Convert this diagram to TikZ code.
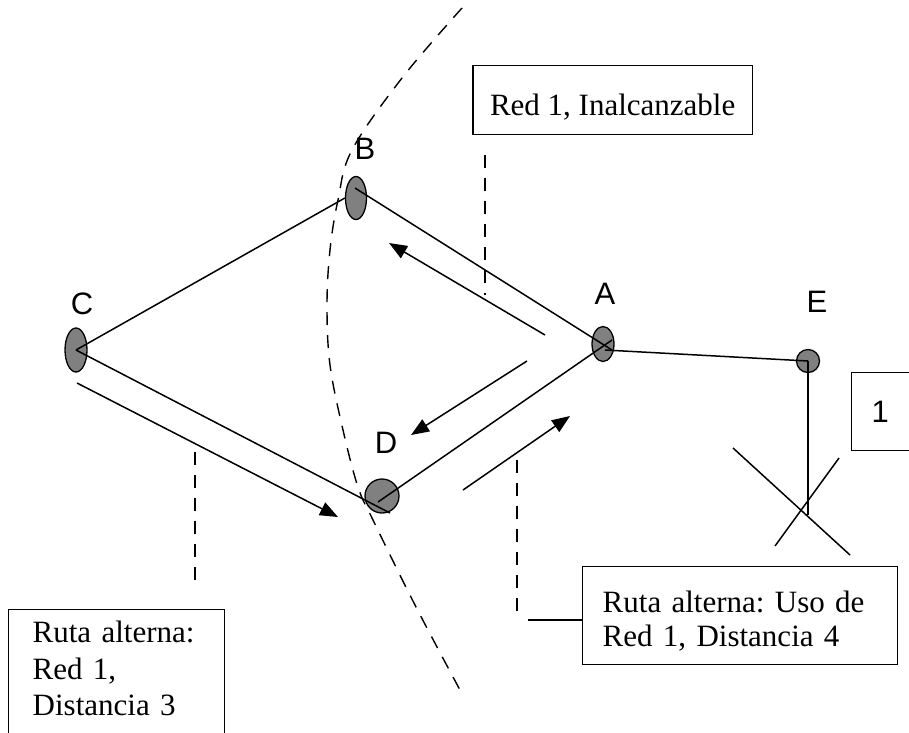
\documentclass[tikz,border=0pt]{standalone}
\usepackage{fontspec}
\setmainfont{Liberation Serif}
\newfontfamily\arialf{Liberation Sans}
\usetikzlibrary{shapes.geometric,arrows.meta,calc}
\definecolor{nodegray}{HTML}{808080}
\frenchspacing
\begin{document}
\begin{tikzpicture}[x=1pt,y=-1pt,
  link/.style={line width=1.5pt},
  dsh/.style={line width=1.4pt, dash pattern=on 13pt off 10pt},
  arr/.style={line width=1.5pt,-{Triangle[length=18pt,width=14pt]}},
  nd/.style={draw,line width=1.3pt,fill=nodegray,inner sep=0pt},
  lbl/.style={font=\arialf\fontsize{31}{36}\selectfont, inner sep=0pt},
  box/.style={draw,line width=1.4pt, inner ysep=0pt, align=left}]
\useasboundingbox (0,0) rectangle (909,732);
% dashed arc
\draw[dsh] plot[smooth, tension=0.6] coordinates {(462,8) (402,78) (352,150) (338,200) (330,250) (327,305) (330,365) (343,430) (358,487) (373,520) (415,605) (460,690)};
% nodes
\node[nd, ellipse, minimum width=21pt, minimum height=43pt] (B) at (356,198) {};
\node[nd, ellipse, minimum width=22pt, minimum height=44pt] (C) at (76,350) {};
\node[nd, circle, minimum size=34pt] (D) at (382,496) {};
\node[nd, ellipse, minimum width=22pt, minimum height=35pt] (A) at (603,344) {};
\node[nd, circle, minimum size=23pt] (E) at (808,361) {};
% labels
\node[lbl] (lB) at (365,149) {B};
\node[lbl] (lC) at (82,304) {C};
\node[lbl] (lD) at (386,443) {D};
\node[lbl] (lA) at (605,294) {A};
\node[lbl] (lE) at (817,302) {E};
% links
\draw[link] (C.center) -- (B.west);
\draw[link] ($(B.center)+(-1,-10)$) -- ($(A.center)+(9,6)$);
\draw[link] (C.center) -- ($(D.center)+(8,17)$);
\draw[link] ($(D.center)+(-4,6)$) -- ($(A.center)+(9,-4)$);
\draw[link] ($(A.center)+(2,6)$) -- (E.center);
\coordinate (Ebot) at (808,515);
\draw[link] (E.center) -- (Ebot);
% cross
\coordinate (x1a) at (733,448);
\coordinate (x1b) at (850,555);
\coordinate (x2a) at (839,458);
\coordinate (x2b) at (775,546);
\draw[link] (x1a) -- (x1b);
\draw[link] (x2a) -- (x2b);
% arrows
\coordinate (a1s) at (545,335); \coordinate (a1e) at (389,243);
\coordinate (a2s) at (527,361); \coordinate (a2e) at (411,435);
\coordinate (a3s) at (77,383);  \coordinate (a3e) at (338,517);
\coordinate (a4s) at (463,490); \coordinate (a4e) at (570,416);
\draw[arr] (a1s) -- (a1e);
\draw[arr] (a2s) -- (a2e);
\draw[arr] (a3s) -- (a3e);
\draw[arr] (a4s) -- (a4e);
% boxes
\node[box, anchor=north east, inner xsep=17pt, text height=50pt, text depth=19pt,
  font=\fontsize{31}{36}\selectfont] (inal) at (753,65) {Red 1, Inalcanzable};
\node[box, anchor=north west, inner xsep=24pt, text width=168pt, text height=33pt, text depth=133pt,
  font=\fontsize{31}{36.5}\selectfont] (r3) at (8,609) {Ruta alterna:\\Red 1,\\Distancia 3};
\node[box, anchor=north west, inner xsep=20pt, text width=275pt, text height=46pt, text depth=52pt,
  font=\fontsize{31}{34}\selectfont] (r4) at (582,566) {Ruta alterna: Uso de\\Red 1, Distancia 4};
\node[box, anchor=north west, inner xsep=20pt, text width=60pt, text height=50pt, text depth=28pt,
  font=\arialf\fontsize{31}{36}\selectfont] (one) at (851,372) {1};
% callout lines
\coordinate (c1t) at (485,155); \coordinate (c1b) at (485,295);
\coordinate (c2t) at (195,452); \coordinate (c2b) at (195,590);
\coordinate (c3t) at (517,460); \coordinate (c3b) at (517,620);
\draw[dsh] (c1t) -- (c1b);
\draw[dsh] (c2t) -- (c2b);
\draw[dsh] (c3t) -- (c3b);
\coordinate (h1) at (528,620);
\draw[link] (h1) -- (r4.west |- h1);
\end{tikzpicture}
\end{document}
